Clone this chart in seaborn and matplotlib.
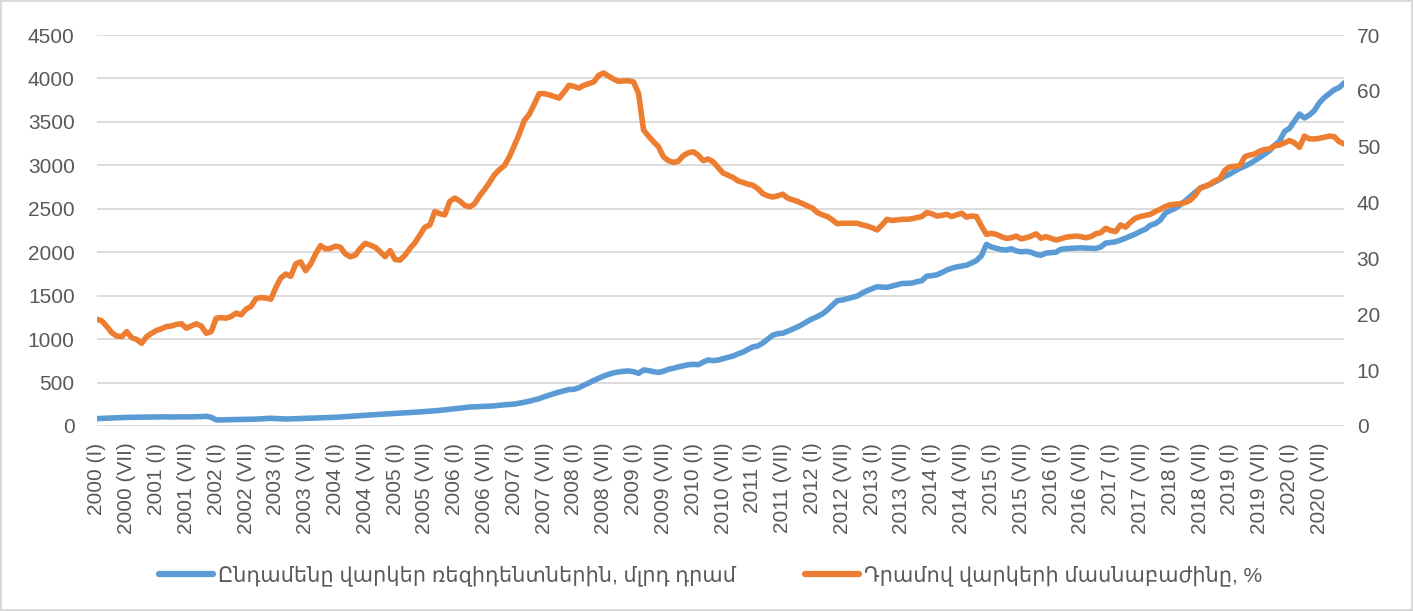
import numpy as np
import pandas as pd
import matplotlib
matplotlib.use("Agg")
import matplotlib.pyplot as plt
import seaborn as sns
from matplotlib.lines import Line2D

# ---------------- data ----------------
years = list(range(2000, 2021))
months_roman = ["I", "II", "III", "IV", "V", "VI", "VII", "VIII", "IX", "X", "XI", "XII"]

# Total loans to residents, bn AMD (monthly, Jan 2000 - Dec 2020)
loans_total = [
    85, 87, 89, 92, 95, 97, 99, 100, 101, 101, 102, 103,            # 2000
    106, 105, 104, 104, 104, 104, 104, 105, 106, 108, 112, 100,     # 2001
    70, 70, 72, 73, 74, 75, 75, 77, 79, 82, 86, 89,                 # 2002
    86, 82, 80, 82, 84, 86, 88, 90, 92, 94, 96, 98,                 # 2003
    100, 104, 108, 112, 116, 120, 123, 126, 130, 134, 138, 141,     # 2004
    144, 148, 152, 155, 158, 162, 166, 170, 175, 180, 186, 192,     # 2005
    198, 205, 212, 218, 221, 224, 226, 228, 232, 238, 244, 248,     # 2006
    252, 262, 273, 285, 300, 315, 336, 355, 373, 390, 405, 420,     # 2007
    422, 440, 470, 495, 525, 550, 575, 595, 612, 622, 630, 633,     # 2008
    625, 606, 645, 638, 625, 617, 630, 652, 665, 680, 692, 705,     # 2009
    710, 705, 735, 760, 752, 758, 775, 790, 805, 830, 850, 880,     # 2010
    910, 921, 955, 1000, 1045, 1062, 1067, 1090, 1115, 1140, 1170, 1205,   # 2011
    1235, 1260, 1290, 1335, 1390, 1442, 1450, 1465, 1480, 1495, 1530, 1557,  # 2012
    1580, 1603, 1598, 1596, 1610, 1625, 1640, 1641, 1645, 1660, 1672, 1725,  # 2013
    1730, 1740, 1765, 1795, 1815, 1830, 1840, 1850, 1875, 1905, 1960, 2090,  # 2014
    2060, 2045, 2030, 2025, 2040, 2015, 2005, 2010, 2000, 1975, 1965, 1990,  # 2015
    1995, 2000, 2035, 2040, 2045, 2048, 2050, 2048, 2045, 2043, 2060, 2105,  # 2016
    2112, 2120, 2140, 2162, 2186, 2210, 2240, 2265, 2310, 2330, 2370, 2450,  # 2017
    2480, 2505, 2545, 2590, 2640, 2690, 2736, 2760, 2780, 2810, 2840, 2875,  # 2018
    2900, 2935, 2965, 2990, 3020, 3055, 3090, 3130, 3170, 3230, 3280, 3390,  # 2019
    3426, 3510, 3590, 3545, 3580, 3630, 3720, 3780, 3825, 3870, 3895, 3950,  # 2020
]

# Share of dram-denominated loans, %
dram_share = [
    19.1, 18.8, 17.8, 16.7, 16.1, 16.0, 16.9, 15.8, 15.5, 14.8, 16.0, 16.6,   # 2000
    17.1, 17.4, 17.8, 17.9, 18.2, 18.3, 17.5, 17.9, 18.3, 17.9, 16.6, 16.9,   # 2001
    19.3, 19.4, 19.3, 19.6, 20.2, 19.9, 20.9, 21.4, 22.8, 23.0, 22.9, 22.7,   # 2002
    24.8, 26.5, 27.2, 26.8, 29.0, 29.4, 27.8, 29.0, 30.8, 32.3, 31.7, 31.8,   # 2003
    32.2, 32.0, 30.8, 30.3, 30.6, 31.8, 32.7, 32.4, 32.0, 31.2, 30.3, 31.4,   # 2004
    29.8, 29.7, 30.6, 31.8, 32.8, 34.2, 35.6, 36.0, 38.4, 38.0, 37.8, 40.2,   # 2005
    40.8, 40.3, 39.5, 39.2, 39.8, 41.2, 42.3, 43.6, 45.0, 45.9, 46.6, 48.2,   # 2006
    50.2, 52.3, 54.7, 55.8, 57.6, 59.5, 59.5, 59.3, 59.0, 58.7, 59.8, 61.0,   # 2007
    60.8, 60.5, 61.0, 61.3, 61.6, 62.8, 63.2, 62.6, 62.1, 61.7, 61.8, 61.8,   # 2008
    61.6, 59.5, 53.0, 51.9, 50.9, 50.0, 48.2, 47.5, 47.2, 47.4, 48.4, 48.9,   # 2009
    49.1, 48.5, 47.5, 47.8, 47.3, 46.3, 45.3, 44.9, 44.5, 43.9, 43.6, 43.3,   # 2010
    43.1, 42.5, 41.6, 41.2, 41.0, 41.2, 41.5, 40.8, 40.5, 40.2, 39.8, 39.4,   # 2011
    39.0, 38.2, 37.8, 37.5, 36.9, 36.2, 36.3, 36.3, 36.3, 36.3, 36.0, 35.8,   # 2012
    35.5, 35.1, 36.0, 37.0, 36.8, 36.9, 37.0, 37.0, 37.1, 37.3, 37.5, 38.2,   # 2013
    38.0, 37.6, 37.7, 37.9, 37.5, 37.8, 38.1, 37.4, 37.6, 37.5, 35.8, 34.3,   # 2014
    34.5, 34.3, 33.9, 33.6, 33.7, 34.0, 33.5, 33.7, 34.0, 34.4, 33.6, 33.9,   # 2015
    33.6, 33.3, 33.5, 33.8, 33.9, 34.0, 33.9, 33.7, 33.9, 34.4, 34.6, 35.4,   # 2016
    35.0, 34.8, 36.0, 35.6, 36.5, 37.2, 37.5, 37.7, 37.9, 38.4, 38.8, 39.3,   # 2017
    39.6, 39.7, 39.8, 40.0, 40.4, 41.3, 42.6, 42.9, 43.3, 43.9, 44.3, 45.8,   # 2018
    46.4, 46.5, 46.6, 48.2, 48.5, 48.7, 49.2, 49.5, 49.6, 50.2, 50.3, 50.7,   # 2019
    51.1, 50.7, 49.9, 51.9, 51.4, 51.4, 51.5, 51.7, 51.9, 51.8, 50.9, 50.5,   # 2020
]

label_total = "Ընդամենը վարկեր ռեզիդենտներին, մլրդ դրամ"
label_share = "Դրամով վարկերի մասնաբաժինը, %"

period_labels = [f"{y} ({m})" for y in years for m in months_roman]
tick_idx = list(range(0, len(period_labels), 6))
tick_labels = [period_labels[i] for i in tick_idx]

df = pd.DataFrame({
    "idx": np.arange(len(loans_total)),
    "total": loans_total,
    "share": dram_share,
})

# ---------------- style ----------------
sns.set_theme(style="white")
plt.rcParams["font.family"] = ["Liberation Sans", "DejaVu Sans"]

BLUE = "#5b9bd5"
ORANGE = "#ed7d31"
GRID = "#d9d9d9"
TXT = "#595959"
FS = 15

fig = plt.figure(figsize=(14.13, 6.11), dpi=100)
fig.patch.set_facecolor("white")
fig.patch.set_edgecolor(GRID)
fig.patch.set_linewidth(1.5)

ax = fig.add_axes([0.0686, 0.3028, 0.8827, 0.6399])
ax2 = ax.twinx()

sns.lineplot(data=df, x="idx", y="total", ax=ax, color=BLUE, lw=4.0,
             legend=False, solid_capstyle="round")
sns.lineplot(data=df, x="idx", y="share", ax=ax2, color=ORANGE, lw=4.0,
             legend=False, solid_capstyle="round")

ax.set_xlim(0, len(loans_total) - 1)
ax.set_ylim(0, 4500)
ax.set_yticks(range(0, 4501, 500))
ax2.set_ylim(0, 70)
ax2.set_yticks(range(0, 71, 10))

ax.grid(axis="y", color=GRID, lw=1.3)
ax.grid(axis="x", visible=False)
ax.set_axisbelow(True)

ax.set_xticks(tick_idx)
ax.set_xticklabels(tick_labels, rotation=90, color=TXT, fontsize=FS)
ax.tick_params(axis="x", length=0, pad=12)
ax.tick_params(axis="y", length=0, pad=16, labelsize=FS, labelcolor=TXT)
ax2.tick_params(axis="y", length=0, pad=9, labelsize=FS, labelcolor=TXT)

for a in (ax, ax2):
    a.set_xlabel("")
    a.set_ylabel("")
    for s in a.spines.values():
        s.set_visible(False)

handles = [Line2D([0], [0], color=BLUE, lw=4.5),
           Line2D([0], [0], color=ORANGE, lw=4.5)]
fig.legend(handles, [label_total, label_share], loc="center",
           bbox_to_anchor=(0.503, 0.058), ncol=2, frameon=False,
           fontsize=FS, handlelength=2.6, handletextpad=0.25,
           columnspacing=3.3, labelcolor=TXT)

fig.savefig("out.png", dpi=100, facecolor=fig.get_facecolor(),
            edgecolor=fig.get_edgecolor())
